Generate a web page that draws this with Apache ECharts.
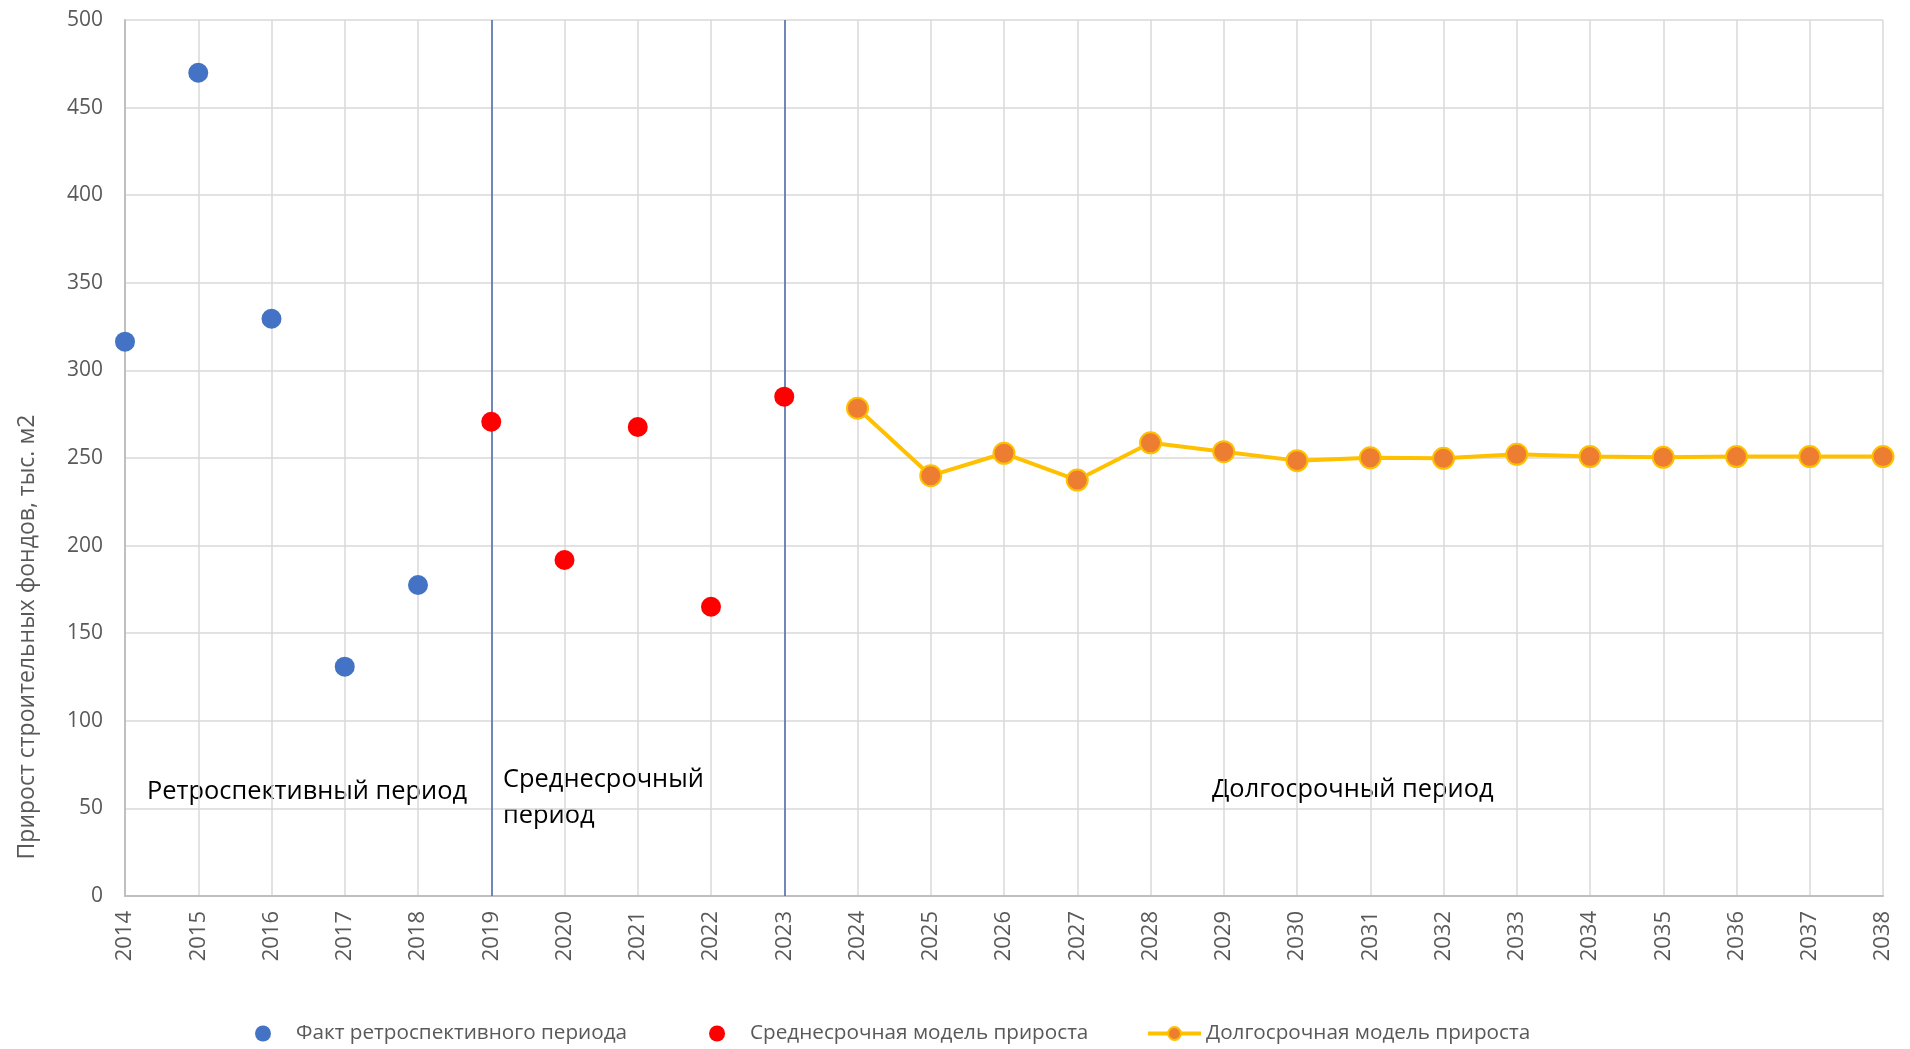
<!DOCTYPE html>
<html>
<head>
<meta charset="utf-8">
<script src="https://cdn.jsdelivr.net/npm/echarts@6/dist/echarts.min.js"></script>
<style>
html,body{margin:0;padding:0;background:#fff;}
#chart{width:1910px;height:1049px;}
</style>
</head>
<body>
<div id="chart"></div>
<script>
const years = ['2014','2015','2016','2017','2018','2019','2020','2021','2022','2023','2024','2025','2026','2027','2028','2029','2030','2031','2032','2033','2034','2035','2036','2037','2038'];
const factYears = ['2014','2015','2016','2017','2018'];
const factValues = [316.4, 469.9, 329.5, 130.9, 177.5];
const midYears = ['2019','2020','2021','2022','2023'];
const midValues = [270.7, 191.8, 267.7, 165.1, 285.0];
const longYears = ['2024','2025','2026','2027','2028','2029','2030','2031','2032','2033','2034','2035','2036','2037','2038'];
const longValues = [278.4, 239.9, 252.7, 237.4, 258.7, 253.6, 248.5, 250.1, 249.8, 252.1, 250.8, 250.4, 250.8, 250.8, 250.8];
const periodBorders = ['2019', '2023'];
const seriesNames = ['Факт ретроспективного периода', 'Среднесрочная модель прироста', 'Долгосрочная модель прироста'];
const yTitle = 'Прирост строительных фондов, тыс. м2';
const periodLabels = ['Ретроспективный период', 'Среднесрочный\nпериод', 'Долгосрочный период'];

const pairs = (xs, vs) => xs.map((x, i) => [x, vs[i]]);
const chart = echarts.init(document.getElementById('chart'));
const txtFont = '"Open Sans", sans-serif';
const legendBase = {
  bottom: 0,
  itemWidth: 56,
  itemHeight: 16,
  itemGap: 82,
  lineStyle: { width: 4 },
  textStyle: { color: '#595959', fontSize: 20.7, fontFamily: txtFont }
};

chart.setOption({
  animation: false,
  backgroundColor: '#ffffff',
  grid: { left: 125, right: 27, top: 20, bottom: 153, containLabel: false },
  xAxis: {
    type: 'category',
    data: years,
    boundaryGap: false,
    axisLine: { show: true, lineStyle: { color: '#bfbfbf', width: 2 } },
    axisTick: { show: false },
    axisLabel: { rotate: 90, margin: 15, color: '#595959', fontSize: 22, fontFamily: txtFont, interval: 0 },
    splitLine: { show: true, lineStyle: { color: '#d9d9d9', width: 1.5 } }
  },
  yAxis: {
    type: 'value',
    min: 0, max: 500, interval: 50,
    axisLine: { show: true, lineStyle: { color: '#bfbfbf', width: 2 } },
    axisTick: { show: false },
    axisLabel: { margin: 22, color: '#595959', fontSize: 21, fontFamily: txtFont },
    splitLine: { show: true, lineStyle: { color: '#d9d9d9', width: 1.5 } }
  },
  legend: [
    Object.assign({}, legendBase, { left: 250, data: seriesNames.slice(0, 2) }),
    Object.assign({}, legendBase, { left: 1141, itemWidth: 53, data: seriesNames.slice(2) })
  ],
  graphic: [
    { type: 'text', x: 27, y: 637, rotation: Math.PI / 2,
      style: { text: yTitle, fill: '#595959', font: '23px "Open Sans", sans-serif', align: 'center', verticalAlign: 'middle' } },
    { type: 'text', x: 147, y: 792,
      style: { text: periodLabels[0], fill: '#000000', font: '25.4px "Open Sans", sans-serif', align: 'left', verticalAlign: 'middle' } },
    { type: 'text', x: 503, y: 798,
      style: { text: periodLabels[1], fill: '#000000', font: '25.4px "Open Sans", sans-serif', align: 'left', verticalAlign: 'middle', lineHeight: 36 } },
    { type: 'text', x: 1212, y: 790,
      style: { text: periodLabels[2], fill: '#000000', font: '25.4px "Open Sans", sans-serif', align: 'left', verticalAlign: 'middle' } }
  ],
  series: [
    {
      name: seriesNames[0],
      type: 'scatter',
      symbol: 'circle',
      symbolSize: 20,
      itemStyle: { color: '#4472c4', opacity: 1 },
      data: pairs(factYears, factValues),
      z: 3,
      markLine: {
        silent: true,
        symbol: ['none', 'none'],
        label: { show: false },
        lineStyle: { color: '#4a6aa8', width: 1.5, type: 'solid' },
        data: periodBorders.map(y => ({ xAxis: y })),
        z: 1
      }
    },
    {
      name: seriesNames[1],
      type: 'scatter',
      symbol: 'circle',
      symbolSize: 20,
      itemStyle: { color: '#ff0000', opacity: 1 },
      data: pairs(midYears, midValues),
      z: 3
    },
    {
      name: seriesNames[2],
      type: 'line',
      symbol: 'circle',
      symbolSize: 21,
      showAllSymbol: true,
      lineStyle: { color: '#ffc000', width: 4 },
      itemStyle: { color: '#ed7d31', borderColor: '#ffc000', borderWidth: 2 },
      data: pairs(longYears, longValues),
      z: 3
    }
  ]
});
</script>
</body>
</html>
